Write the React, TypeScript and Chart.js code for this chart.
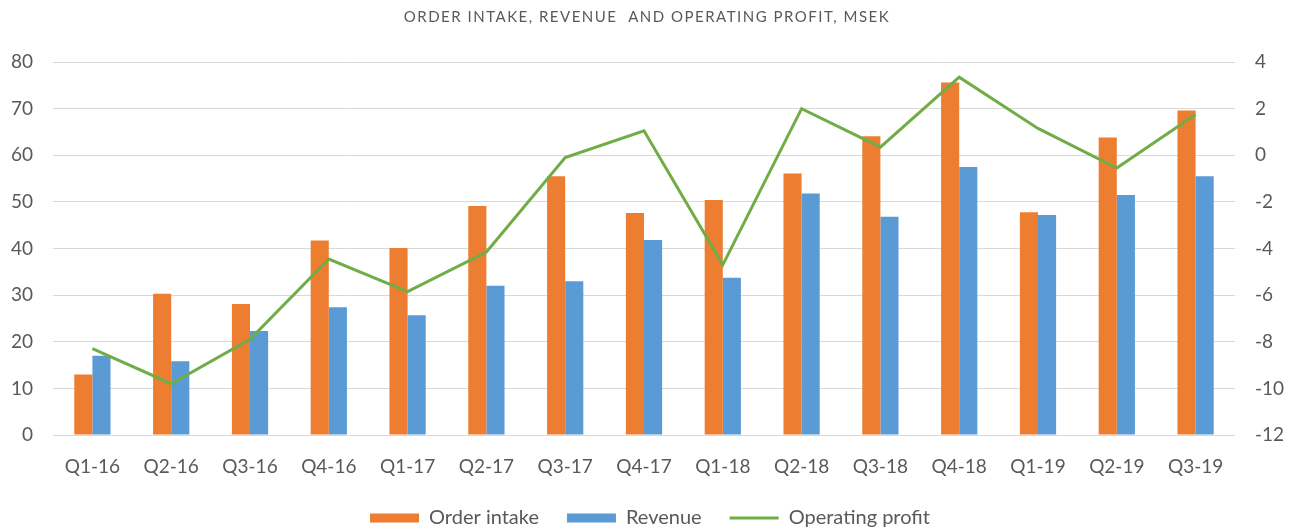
import React, { useEffect, useRef } from "react";
import { Chart, registerables } from "chart.js";

Chart.register(...registerables);

const categories = ["Q1-16", "Q2-16", "Q3-16", "Q4-16", "Q1-17", "Q2-17", "Q3-17", "Q4-17", "Q1-18", "Q2-18", "Q3-18", "Q4-18", "Q1-19", "Q2-19", "Q3-19"];
const orderIntake = [13, 30.3, 28.1, 41.7, 40.1, 49.1, 55.5, 47.6, 50.4, 56.1, 64.1, 75.6, 47.8, 63.8, 69.6];
const revenue = [17, 15.8, 22.3, 27.4, 25.7, 32, 33, 41.8, 33.7, 51.8, 46.8, 57.5, 47.2, 51.5, 55.5];
const operatingProfit = [-8.3, -9.8, -7.9, -4.45, -5.85, -4.15, -0.1, 1.05, -4.7, 2.0, 0.35, 3.35, 1.15, -0.55, 1.75];
const leftTicks = { min: 0, max: 80, step: 10 };
const rightTicks = { min: -12, max: 4, step: 2 };
const titleText = "ORDER INTAKE, REVENUE  AND OPERATING PROFIT, MSEK";

const ORANGE = "#ED7D31";
const BLUE = "#5B9BD5";
const GREEN = "#70AD47";
const TEXT = "#595959";
const GRID = "#D9D9D9";
const FONT = "Lato";

const W = 1300;
const H = 538;
const LEGEND_PAD = 28;
const LEGEND_FONT = 20;
const X_AXIS_H = 45;

const titlePlugin = {
  id: "customTitle",
  afterDraw(chart: any) {
    const { ctx, chartArea } = chart;
    ctx.save();
    ctx.font = `15px ${FONT}`;
    (ctx as any).letterSpacing = "1.5px";
    ctx.fillStyle = TEXT;
    ctx.textAlign = "center";
    ctx.textBaseline = "middle";
    ctx.fillText(titleText, (chartArea.left + chartArea.right) / 2 + 3, 17);
    ctx.restore();
  },
};

export default function App() {
  const ref = useRef<HTMLCanvasElement>(null);

  useEffect(() => {
    const chart = new Chart(ref.current as HTMLCanvasElement, {
      type: "bar",
      data: {
        labels: categories,
        datasets: [
          {
            type: "bar",
            label: "Order intake",
            data: orderIntake,
            backgroundColor: ORANGE,
            yAxisID: "y",
            order: 1,
            categoryPercentage: 0.46,
            barPercentage: 1,
          } as any,
          {
            type: "bar",
            label: "Revenue",
            data: revenue,
            backgroundColor: BLUE,
            yAxisID: "y",
            order: 1,
            categoryPercentage: 0.46,
            barPercentage: 1,
          } as any,
          {
            type: "line",
            label: "Operating profit",
            data: operatingProfit,
            borderColor: GREEN,
            backgroundColor: GREEN,
            borderWidth: 3,
            pointRadius: 0,
            tension: 0,
            yAxisID: "y1",
            order: 0,
          } as any,
        ],
      },
      options: {
        responsive: false,
        animation: false,
        layout: { padding: { top: 62, left: 0, right: 0, bottom: 0 } },
        plugins: {
          title: { display: false },
          tooltip: { enabled: false },
          legend: {
            position: "bottom",
            labels: {
              usePointStyle: true,
              pointStyleWidth: 49,
              boxHeight: 9,
              padding: LEGEND_PAD,
              color: TEXT,
              font: { family: FONT, size: LEGEND_FONT },
              generateLabels: (c: any) => {
                const items = (Chart.defaults.plugins.legend.labels as any).generateLabels(c);
                items.sort((a: any, b: any) => a.datasetIndex - b.datasetIndex);
                return items.map((it: any) =>
                  it.datasetIndex === 2
                    ? { ...it, pointStyle: "line", lineWidth: 3, strokeStyle: GREEN }
                    : { ...it, pointStyle: "rect", lineWidth: 0 }
                );
              },
            },
          },
        },
        scales: {
          x: {
            grid: { display: false, drawTicks: false },
            border: { display: false },
            ticks: { color: TEXT, font: { family: FONT, size: 19 }, padding: 20, maxRotation: 0 },
            afterFit: (s: any) => {
              s.height = X_AXIS_H;
            },
          },
          y: {
            position: "left",
            min: leftTicks.min,
            max: leftTicks.max,
            ticks: { stepSize: leftTicks.step, color: TEXT, font: { family: FONT, size: 19 }, padding: 20 },
            grid: { color: GRID, lineWidth: 1, drawTicks: false },
            border: { display: false },
            afterFit: (s: any) => {
              s.width = 53;
            },
          },
          y1: {
            position: "right",
            min: rightTicks.min,
            max: rightTicks.max,
            ticks: { stepSize: rightTicks.step, color: TEXT, font: { family: FONT, size: 19 }, padding: 20 },
            grid: { display: false, drawTicks: false },
            border: { display: false },
            afterFit: (s: any) => {
              s.width = 65;
            },
          },
        },
      } as any,
      plugins: [titlePlugin],
    });
    return () => chart.destroy();
  }, []);

  return (
    <div style={{ position: "fixed", left: 0, top: 0, width: W, height: H, background: "#fff" }}>
      <canvas ref={ref} width={W} height={H} style={{ display: "block", width: W, height: H }} />
    </div>
  );
}
